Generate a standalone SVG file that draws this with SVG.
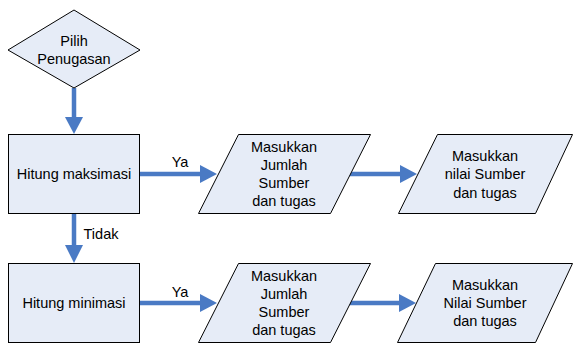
<svg xmlns="http://www.w3.org/2000/svg" width="573" height="345" viewBox="0 0 573 345">
  <defs>
    <style>
      .shape { fill: #e6ecf7; stroke: #000; stroke-width: 1; }
      .label { font-family: "Liberation Sans", Arial, sans-serif; font-size: 14.5px; fill: #000; text-anchor: middle; }
      .edge { stroke: #4a7ac4; stroke-width: 4.5; fill: none; }
      .head { fill: #4a7ac4; }
    </style>
  </defs>
  <rect width="573" height="345" fill="#fff"/>

  <!-- connectors -->
  <g id="connectors">
    <!-- Pilih Penugasan -> Hitung maksimasi -->
    <line class="edge" x1="74" y1="88" x2="74" y2="118"/>
    <polygon class="head" points="65,117 83,117 74,134"/>
    <!-- Hitung maksimasi -> Hitung minimasi (Tidak) -->
    <line class="edge" x1="74" y1="213" x2="74" y2="246"/>
    <polygon class="head" points="65,245 83,245 74,263"/>
    <text class="label" x="101" y="239">Tidak</text>
    <!-- Hitung maksimasi -> Masukkan Jumlah (Ya) -->
    <line class="edge" x1="140" y1="174" x2="201" y2="174"/>
    <polygon class="head" points="200,165 200,183 217,174"/>
    <text class="label" x="180" y="167">Ya</text>
    <!-- Masukkan Jumlah -> Masukkan nilai -->
    <line class="edge" x1="349" y1="174" x2="401" y2="174"/>
    <polygon class="head" points="400,165 400,183 417,174"/>
    <!-- Hitung minimasi -> Masukkan Jumlah (Ya) -->
    <line class="edge" x1="140" y1="303" x2="201" y2="303"/>
    <polygon class="head" points="200,294 200,312 217,303"/>
    <text class="label" x="180" y="297">Ya</text>
    <!-- Masukkan Jumlah -> Masukkan Nilai -->
    <line class="edge" x1="349" y1="303" x2="400" y2="303"/>
    <polygon class="head" points="399,294 399,312 416,303"/>
  </g>

  <g id="pilih-penugasan">
    <polygon class="shape" points="74,10 140,50 74,88 8,50"/>
    <text class="label" x="74" y="46">Pilih</text>
    <text class="label" x="74" y="64">Penugasan</text>
  </g>

  <g id="hitung-maksimasi">
    <rect class="shape" x="8.5" y="134.5" width="131" height="79"/>
    <text class="label" x="74" y="179">Hitung maksimasi</text>
  </g>

  <g id="hitung-minimasi">
    <rect class="shape" x="8.5" y="263.5" width="131" height="79"/>
    <text class="label" x="74" y="308">Hitung minimasi</text>
  </g>

  <g id="masukkan-jumlah-1">
    <polygon class="shape" points="238.5,134.5 370.5,134.5 330.5,213.5 198.5,213.5"/>
    <text class="label" x="284" y="152">Masukkan</text>
    <text class="label" x="284" y="170">Jumlah</text>
    <text class="label" x="284" y="188">Sumber</text>
    <text class="label" x="284" y="206">dan tugas</text>
  </g>

  <g id="masukkan-nilai-1">
    <polygon class="shape" points="437.5,134.5 572.5,134.5 535.5,213.5 398.5,213.5"/>
    <text class="label" x="485" y="161">Masukkan</text>
    <text class="label" x="485" y="179">nilai Sumber</text>
    <text class="label" x="485" y="198">dan tugas</text>
  </g>

  <g id="masukkan-jumlah-2">
    <polygon class="shape" points="238.5,263.5 370.5,263.5 330.5,342.5 198.5,342.5"/>
    <text class="label" x="284" y="281">Masukkan</text>
    <text class="label" x="284" y="299">Jumlah</text>
    <text class="label" x="284" y="317">Sumber</text>
    <text class="label" x="284" y="335">dan tugas</text>
  </g>

  <g id="masukkan-nilai-2">
    <polygon class="shape" points="435.5,263.5 572.5,263.5 535.5,342.5 397.5,342.5"/>
    <text class="label" x="485" y="290">Masukkan</text>
    <text class="label" x="485" y="308">Nilai Sumber</text>
    <text class="label" x="485" y="326">dan tugas</text>
  </g>
</svg>
